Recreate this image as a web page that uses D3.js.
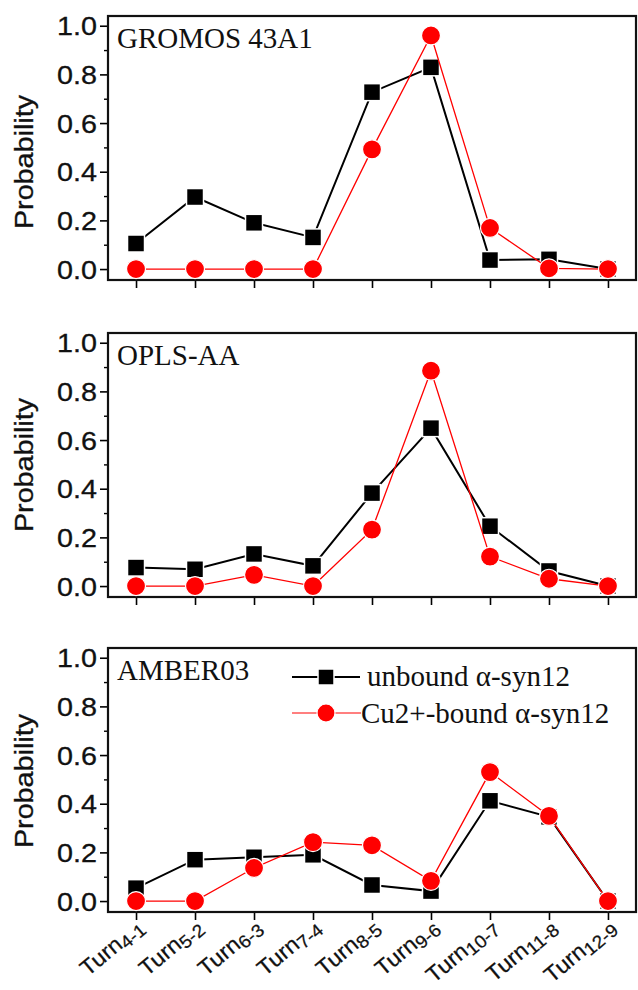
<!DOCTYPE html>
<html>
<head>
<meta charset="utf-8">
<script src="https://cdn.jsdelivr.net/npm/d3@7"></script>
<style>
  body { margin: 0; background: #fff; }
  svg { display: block; }
</style>
</head>
<body>
<svg id="chart" width="638" height="990"></svg>
<script>
// ---- data ----
const turnLabels = ["4-1", "5-2", "6-3", "7-4", "8-5", "9-6", "10-7", "11-8", "12-9"];
const forceFields = ["GROMOS 43A1", "OPLS-AA", "AMBER03"];
const unboundGromos = [0.105, 0.296, 0.19, 0.13, 0.727, 0.829, 0.037, 0.04, 0.0];
const cuGromos      = [0.0, 0.0, 0.0, 0.0, 0.492, 0.96, 0.169, 0.003, 0.0];
const unboundOpls   = [0.076, 0.069, 0.132, 0.083, 0.382, 0.649, 0.246, 0.062, 0.0];
const cuOpls        = [0.0, 0.0, 0.046, 0.0, 0.232, 0.885, 0.121, 0.03, 0.0];
const unboundAmber  = [0.053, 0.17, 0.18, 0.19, 0.066, 0.041, 0.412, 0.346, 0.0];
const cuAmber       = [0.0, 0.0, 0.136, 0.242, 0.229, 0.083, 0.53, 0.35, 0.0];
const yMajorTicks = [0.0, 0.2, 0.4, 0.6, 0.8, 1.0];
const yMinorTicks = [0.1, 0.3, 0.5, 0.7, 0.9];
const seriesNames = ["unbound \u03b1-syn12", "Cu2+-bound \u03b1-syn12"];
const yTitle = "Probability";

const panelsData = [
  { name: forceFields[0], unbound: unboundGromos, cu: cuGromos },
  { name: forceFields[1], unbound: unboundOpls, cu: cuOpls },
  { name: forceFields[2], unbound: unboundAmber, cu: cuAmber }
];

// ---- layout ----
const svg = d3.select("#chart");
const left = 108, right = 636, panelH = 264;
const tops = [16, 333, 648];
const titleY = [162, 465, 781];
const sansStretch = 1.15;
const sans = "'Liberation Sans', Arial, sans-serif";
const serif = "'Liberation Serif', 'Times New Roman', serif";

const x = d3.scalePoint().domain(turnLabels).range([left, right]).padding(0.475);

panelsData.forEach((p, i) => {
  const top = tops[i], bottom = top + panelH;
  const y = d3.scaleLinear().domain([-0.045, 1.04]).range([bottom, top]);
  const g = svg.append("g");

  // y axis major
  const ya = g.append("g").attr("transform", `translate(${left},0)`)
    .call(d3.axisLeft(y).tickValues(yMajorTicks).tickSize(8).tickFormat(d3.format(".1f")));
  ya.select(".domain").remove();
  ya.selectAll("line").attr("stroke", "#000").attr("stroke-width", 1.6);
  ya.selectAll("text")
    .attr("x", -11 / sansStretch).attr("dy", "0.36em")
    .attr("transform", `scale(${sansStretch},1)`)
    .style("font-family", sans).style("font-size", "25px").attr("fill", "#111")
    .attr("stroke", "#111").attr("stroke-width", 0.3);
  // y axis minor
  const ym = g.append("g").attr("transform", `translate(${left},0)`)
    .call(d3.axisLeft(y).tickValues(yMinorTicks).tickSize(4).tickFormat(""));
  ym.select(".domain").remove();
  ym.selectAll("line").attr("stroke", "#000").attr("stroke-width", 1.4);

  // x axis ticks
  const xa = g.append("g").attr("transform", `translate(0,${bottom})`)
    .call(d3.axisBottom(x).tickSize(8).tickFormat(""));
  xa.select(".domain").remove();
  xa.selectAll("line").attr("stroke", "#000").attr("stroke-width", 1.6);

  // frame
  g.append("rect").attr("x", left).attr("y", top).attr("width", right - left).attr("height", panelH)
    .attr("fill", "none").attr("stroke", "#111").attr("stroke-width", 2.2);

  // y title
  g.append("text")
    .attr("transform", `translate(33,${titleY[i]}) rotate(-90) scale(${sansStretch},1)`)
    .attr("text-anchor", "middle")
    .style("font-family", sans).style("font-size", "25px").attr("fill", "#111")
    .attr("stroke", "#111").attr("stroke-width", 0.3)
    .text(yTitle);

  // panel label
  g.append("text").attr("x", 117).attr("y", top + 32)
    .style("font-family", serif).style("font-size", "29px").attr("fill", "#111")
    .text(p.name);

  const line = d3.line().x((d, k) => x(turnLabels[k])).y(d => y(d));

  // unbound series (black squares)
  g.append("path").datum(p.unbound).attr("d", line)
    .attr("fill", "none").attr("stroke", "#000").attr("stroke-width", 2);
  g.selectAll(".sq").data(p.unbound).enter().append("rect")
    .attr("x", (d, k) => x(turnLabels[k]) - 8.5).attr("y", d => y(d) - 8.5)
    .attr("width", 17).attr("height", 17)
    .attr("fill", "#000").attr("stroke", "#fff").attr("stroke-width", 1.5);

  // Cu-bound series (red circles)
  g.append("path").datum(p.cu).attr("d", line)
    .attr("fill", "none").attr("stroke", "#ff0000").attr("stroke-width", 1.3);
  g.selectAll(".ci").data(p.cu).enter().append("circle")
    .attr("cx", (d, k) => x(turnLabels[k])).attr("cy", d => y(d)).attr("r", 9.5)
    .attr("fill", "#ff0000").attr("stroke", "#fff").attr("stroke-width", 1.2);

  // legend in last panel
  if (i === 2) {
    const ly1 = 677, ly2 = 713;
    const lg = g.append("g");
    lg.append("line").attr("x1", 292).attr("x2", 360).attr("y1", ly1).attr("y2", ly1)
      .attr("stroke", "#000").attr("stroke-width", 2);
    lg.append("rect").attr("x", 326 - 8).attr("y", ly1 - 8).attr("width", 16).attr("height", 16)
      .attr("fill", "#000").attr("stroke", "#fff").attr("stroke-width", 1.5);
    lg.append("text").attr("x", 367).attr("y", ly1 + 9)
      .style("font-family", serif).style("font-size", "29px").attr("fill", "#111")
      .text(seriesNames[0]);
    lg.append("line").attr("x1", 292).attr("x2", 361).attr("y1", ly2).attr("y2", ly2)
      .attr("stroke", "#ff0000").attr("stroke-width", 1.2);
    lg.append("circle").attr("cx", 326).attr("cy", ly2).attr("r", 9)
      .attr("fill", "#ff0000").attr("stroke", "#fff").attr("stroke-width", 1.2);
    lg.append("text").attr("x", 361).attr("y", ly2 + 10)
      .style("font-family", serif).style("font-size", "29px").attr("fill", "#111")
      .text(seriesNames[1]);

    // x tick labels
    turnLabels.forEach(lbl => {
      const t = g.append("text")
        .attr("transform", `translate(${x(lbl) + 9},${bottom + 17}) rotate(-40) scale(1.06,1)`)
        .attr("text-anchor", "end")
        .style("font-family", sans).style("font-size", "22px").attr("fill", "#111")
        .attr("stroke", "#111").attr("stroke-width", 0.25);
      t.append("tspan").text("Turn");
      t.append("tspan").attr("dy", "4").style("font-size", "18px").text(lbl);
    });
  }
});
</script>
</body>
</html>
